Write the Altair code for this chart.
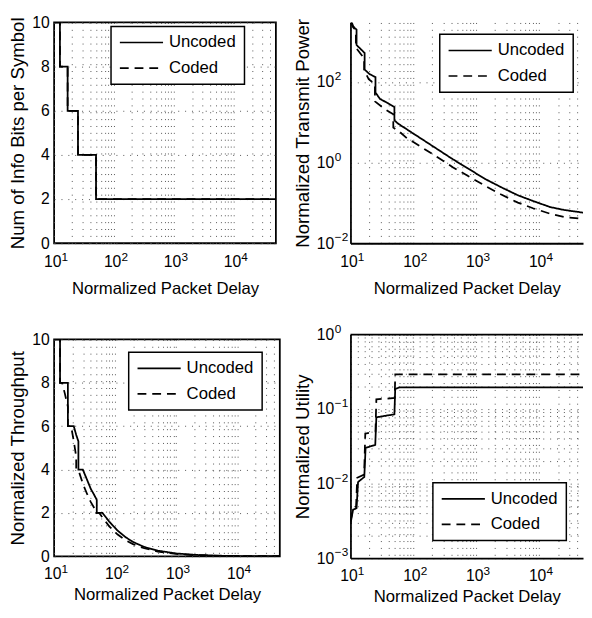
import altair as alt
import pandas as pd

FONT = "Liberation Sans"

# ---------------- tick positions / labels ----------------
x_ticks = [10, 20, 30, 40, 50, 60, 70, 80, 90,
           100, 200, 300, 400, 500, 600, 700, 800, 900,
           1000, 2000, 3000, 4000, 5000, 6000, 7000, 8000, 9000,
           10000, 20000, 30000, 40000]
x_exp_vals = [10, 100, 1000, 10000]
x_exp_text = ["1", "2", "3", "4"]
lin_ticks = [0, 2, 4, 6, 8, 10]
pow_ticks = [0.01, 1, 100]
pow_exp_text = ["−2", "0", "2"]
util_ticks = [0.001, 0.002, 0.003, 0.004, 0.005, 0.006, 0.007, 0.008, 0.009,
              0.01, 0.02, 0.03, 0.04, 0.05, 0.06, 0.07, 0.08, 0.09,
              0.1, 0.2, 0.3, 0.4, 0.5, 0.6, 0.7, 0.8, 0.9, 1]
util_exp_vals = [0.001, 0.01, 0.1, 1]
util_exp_text = ["−3", "−2", "−1", "0"]
series_names = ["Uncoded", "Coded"]

x_base_expr = ("(datum.value == 10 || datum.value == 100 || datum.value == 1000 || "
               "datum.value == 10000) ? '10' : ''")
pow_base_expr = "(datum.value == 0.01 || datum.value == 1 || datum.value == 100) ? '10' : ''"
util_base_expr = ("(datum.value == 0.001 || datum.value == 0.01 || datum.value == 0.1 || "
                  "datum.value == 1) ? '10' : ''")

# ---------------- panel 1: info bits per symbol ----------------
bits_unc_x = [10, 12.5, 12.5, 16.8, 16.8, 25, 25, 50, 50, 50000]
bits_unc_y = [10, 10, 8, 8, 6, 6, 4, 4, 2, 2]
bits_cod_x = [10, 12.5, 12.5, 16.8, 16.8, 25, 25, 50, 50, 50000]
bits_cod_y = [10, 10, 8, 8, 6, 6, 4, 4, 2, 2]

# ---------------- panel 2: transmit power ----------------
pow_unc_x = [10, 11, 11.7, 12.5, 12.5, 14.5, 16.8, 16.8, 20, 25, 25, 29.5, 40, 50, 50,
             57, 80, 100, 130, 250, 430, 800, 1400, 2500, 4600, 8000, 15000, 25000, 50000]
pow_unc_y = [3800, 2450, 2190, 2000, 830, 660, 525, 204, 158, 132, 55, 38, 29.5, 24, 11.2,
             9.3, 6.6, 5.25, 4.04, 2.08, 1.2, 0.665, 0.39, 0.245, 0.155, 0.112, 0.079, 0.067, 0.0575]
pow_cod_x = [10, 11, 12.2, 12.2, 15, 16.5, 16.5, 19.5, 24.5, 24.5, 35, 48, 48,
             60, 80, 100, 130, 250, 430, 800, 1400, 2500, 4600, 8000, 15000, 25000, 50000]
pow_cod_y = [3160, 2290, 1900, 710, 470, 390, 200, 117, 89, 33, 21.4, 15.8, 7.4,
             5.9, 3.98, 3.24, 2.51, 1.32, 0.76, 0.437, 0.263, 0.162, 0.102, 0.074, 0.054, 0.045, 0.040]

# ---------------- panel 3: throughput ----------------
thr_unc_x = [10, 12.5, 12.5, 16.8, 16.8, 21, 23, 25, 25, 29.5, 35, 40, 45, 50, 50,
             62, 80, 110, 150, 200, 300, 500, 1000, 2000, 5000, 10000, 50000]
thr_unc_y = [10, 10, 8, 8, 6, 6, 5.6, 5.3, 4, 4, 3.5, 3.1, 2.85, 2.6, 2,
             2, 1.6, 1.18, 0.87, 0.65, 0.43, 0.26, 0.13, 0.065, 0.026, 0.013, 0.003]
thr_cod_x = [10, 12.5, 12.5, 13.5, 15, 16.8, 16.8, 19, 21, 23, 23, 25.5, 30, 35, 40, 46, 46,
             55, 60, 80, 110, 150, 200, 300, 500, 1000, 2000, 5000, 10000, 50000]
thr_cod_y = [10, 10, 8, 8, 7.5, 6.9, 6, 6, 5.3, 4.6, 4, 3.9, 3.3, 2.85, 2.5, 2.2, 2,
             2, 1.85, 1.38, 1.0, 0.73, 0.55, 0.37, 0.22, 0.11, 0.055, 0.022, 0.011, 0.002]

# ---------------- panel 4: utility ----------------
util_unc_x = [10, 11, 12.5, 13.2, 16.6, 17.4, 24.8, 25.8, 50, 51.5, 60, 50000]
util_unc_y = [0.00288, 0.00447, 0.00468, 0.0105, 0.0123, 0.0302, 0.0331, 0.0776, 0.0851,
              0.186, 0.195, 0.195]
util_cod_x = [10, 11, 12.3, 12.8, 16.5, 17.2, 25, 25.8, 50.5, 51.6, 55, 50000]
util_cod_y = [0.00316, 0.00457, 0.00501, 0.0120, 0.0132, 0.0468, 0.0501, 0.135, 0.141,
              0.292, 0.292, 0.292]


def make_df(ux, uy, cx, cy):
    rows = []
    for i, (a, b) in enumerate(zip(cx, cy)):
        rows.append({"x": a, "y": b, "series": "Coded", "idx": i})
    for i, (a, b) in enumerate(zip(ux, uy)):
        rows.append({"x": a, "y": b, "series": "Uncoded", "idx": i})
    return pd.DataFrame(rows)


def x_enc(show_domain, lp, tp):
    return alt.X(
        "x:Q",
        scale=alt.Scale(type="log", domain=[10, 50000], nice=False),
        axis=alt.Axis(values=x_ticks, labelExpr=x_base_expr, title="Normalized Packet Delay",
                      labelFlush=False, labelOverlap=False, labelOffset=-2, domain=show_domain,
                      labelPadding=lp, titlePadding=tp),
    )


def line_layer(df, xenc, yenc, lx, ly):
    return alt.Chart(df).mark_line(color="black", strokeWidth=1.8, clip=True).encode(
        x=xenc,
        y=yenc,
        strokeDash=alt.StrokeDash(
            "series:N",
            scale=alt.Scale(domain=series_names, range=[[1, 0], [9, 6]]),
            legend=alt.Legend(title=None, orient="none", legendX=lx, legendY=ly),
        ),
        order=alt.Order("idx:Q"),
    )


def x_exponents(xenc, ypix):
    df = pd.DataFrame({"x": x_exp_vals, "e": x_exp_text})
    return alt.Chart(df).mark_text(
        align="left", baseline="alphabetic", fontSize=12, dx=7.5, color="black", font=FONT
    ).encode(x=xenc, y=alt.value(ypix), text="e:N")


def y_exponents(vals, texts, yenc):
    df = pd.DataFrame({"y": vals, "e": texts})
    return alt.Chart(df).mark_text(
        align="left", baseline="alphabetic", fontSize=12, dy=-2, color="black", font=FONT
    ).encode(x=alt.value(-16), y=yenc, text="e:N")


boxed = alt.ViewBackground(stroke="black", strokeWidth=1.8)
open_view = alt.ViewBackground(strokeOpacity=0)

H1, H2, H3, H4 = 225, 225, 221, 228
W1, W2, W3, W4 = 226, 237, 230, 237
TOP_LP, TOP_TP = 11, 11
BOT_LP, BOT_TP = 10, 5

# panel 1
x1 = x_enc(False, TOP_LP, TOP_TP)
y1 = alt.Y("y:Q", scale=alt.Scale(domain=[0, 10], nice=False),
           axis=alt.Axis(values=lin_ticks, format="d", title="Num of Info Bits per Symbol",
                         domain=False))
p1 = alt.layer(
    line_layer(make_df(bits_unc_x, bits_unc_y, bits_cod_x, bits_cod_y), x1, y1, 58, 4),
    x_exponents(x1, H1 + TOP_LP + 7),
).properties(width=W1, height=H1, view=boxed)

# panel 2
x2 = x_enc(True, TOP_LP, TOP_TP)
y2 = alt.Y("y:Q", scale=alt.Scale(type="log", domain=[0.01, 3000], nice=False),
           axis=alt.Axis(values=pow_ticks, labelExpr=pow_base_expr, labelPadding=17,
                         title="Normalized Transmit Power"))
p2 = alt.layer(
    line_layer(make_df(pow_unc_x, pow_unc_y, pow_cod_x, pow_cod_y), x2, y2, 91, 12),
    x_exponents(x2, H2 + TOP_LP + 7),
    y_exponents(pow_ticks, pow_exp_text, y2),
).properties(width=W2, height=H2, view=open_view)

# panel 3
x3 = x_enc(False, BOT_LP, BOT_TP)
y3 = alt.Y("y:Q", scale=alt.Scale(domain=[0, 10], nice=False),
           axis=alt.Axis(values=lin_ticks, format="d", title="Normalized Throughput", domain=False))
p3 = alt.layer(
    line_layer(make_df(thr_unc_x, thr_unc_y, thr_cod_x, thr_cod_y), x3, y3, 76, 13),
    x_exponents(x3, H3 + BOT_LP + 7),
).properties(width=W3, height=H3, view=boxed)

# panel 4
x4 = x_enc(True, BOT_LP, BOT_TP)
y4 = alt.Y("y:Q", scale=alt.Scale(type="log", domain=[0.001, 1], nice=False),
           axis=alt.Axis(values=util_ticks, labelExpr=util_base_expr, labelPadding=17,
                         title="Normalized Utility", labelOverlap=False))
top_border = alt.Chart(pd.DataFrame({"k": [0]})).mark_rule(color="black", strokeWidth=1.8).encode(
    x=alt.value(0), x2=alt.value(W4), y=alt.value(0)
)
p4 = alt.layer(
    line_layer(make_df(util_unc_x, util_unc_y, util_cod_x, util_cod_y), x4, y4, 84, 151),
    x_exponents(x4, H4 + BOT_LP + 7),
    y_exponents(util_exp_vals, util_exp_text, y4),
    top_border,
).properties(width=W4, height=H4, view=open_view)

left = alt.vconcat(p1, p3, spacing=34).resolve_scale(strokeDash="independent").resolve_legend(
    strokeDash="independent")
right = alt.vconcat(p2, p4, spacing=27).resolve_scale(strokeDash="independent").resolve_legend(
    strokeDash="independent")

chart = (
    alt.hconcat(left, right, spacing=13)
    .resolve_scale(strokeDash="independent")
    .resolve_legend(strokeDash="independent")
    .properties(padding=0, background="white")
    .configure(font=FONT)
    .configure_axis(
        labelFont=FONT, titleFont=FONT, labelFontSize=16, labelColor="black",
        titleColor="black", titleFontWeight="normal", ticks=False, tickSize=0,
        grid=True, gridColor="#555555", gridDash=[1, 6], gridWidth=1, gridOpacity=1,
        domainColor="black", domainWidth=1.8,
    )
    .configure_axisX(titleFontSize=17)
    .configure_axisY(titleFontSize=19, labelPadding=5, titlePadding=4)
    .configure_legend(
        strokeColor="black", strokeWidth=1.5, fillColor="white", padding=8, cornerRadius=0,
        labelFont=FONT, labelFontSize=17, labelColor="black", labelOffset=5,
        symbolType="stroke", symbolSize=1936, symbolStrokeWidth=1.6, clipHeight=17,
        symbolStrokeColor="black", rowPadding=8,
    )
)

chart.save("out.html", embed_options={"renderer": "svg", "actions": False})
